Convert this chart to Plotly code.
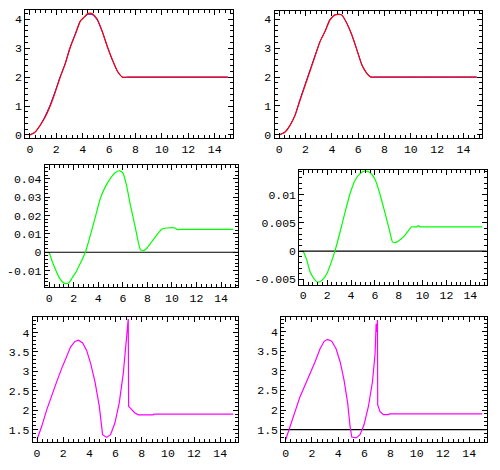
import plotly.graph_objects as go

# ---------------- data ----------------
# Panel 1 (top left): red and blue nearly identical
p1_red_x = [0, 0.38, 0.76, 1.15, 1.53, 1.91, 2.29, 2.67, 3.05, 3.44, 3.82, 4.05, 4.38, 4.71, 5.09, 5.47, 5.85, 6.23, 6.62, 7.0, 7.4, 15]
p1_red_y = [0, 0.09, 0.32, 0.61, 0.99, 1.47, 1.99, 2.45, 3.02, 3.48, 3.94, 4.05, 4.2, 4.2, 4.02, 3.6, 3.08, 2.62, 2.22, 2.0, 2.0, 2.0]
p1_blue_x = [0, 0.38, 0.76, 1.12, 1.5, 1.9, 2.28, 2.66, 3.04, 3.43, 3.82, 4.05, 4.38, 4.71, 5.1, 5.5, 5.88, 6.26, 6.64, 7.0, 7.4, 15]
p1_blue_y = [0, 0.09, 0.32, 0.62, 1.0, 1.49, 2.0, 2.46, 3.03, 3.49, 3.95, 4.05, 4.17, 4.17, 3.98, 3.55, 3.04, 2.58, 2.19, 2.0, 2.0, 2.0]

# Panel 2 (top right)
p2_red_x = [0, 0.43, 0.81, 1.19, 1.57, 1.95, 2.34, 2.72, 3.1, 3.48, 3.86, 4.24, 4.49, 4.75, 5.13, 5.51, 5.89, 6.27, 6.65, 6.95, 7.4, 15]
p2_red_y = [0, 0.09, 0.32, 0.66, 1.18, 1.69, 2.21, 2.72, 3.23, 3.58, 3.98, 4.15, 4.17, 4.15, 3.86, 3.46, 2.95, 2.43, 2.13, 2.0, 2.0, 2.0]
p2_blue_x = [0, 0.43, 0.81, 1.19, 1.55, 1.93, 2.32, 2.71, 3.1, 3.48, 3.84, 4.22, 4.49, 4.75, 5.15, 5.53, 5.91, 6.29, 6.67, 6.97, 7.4, 15]
p2_blue_y = [0, 0.1, 0.33, 0.67, 1.19, 1.7, 2.22, 2.73, 3.23, 3.58, 3.99, 4.15, 4.17, 4.15, 3.85, 3.44, 2.93, 2.41, 2.12, 2.0, 2.0, 2.0]

# Panel 3 (middle left)
p3_x = [0, 0.24, 0.51, 0.79, 1.06, 1.33, 1.6, 1.87, 2.22, 2.55, 2.95, 3.36, 3.77, 4.17, 4.58, 4.99, 5.39, 5.75, 6.02,
        6.29, 6.61, 7.02, 7.43, 7.7, 7.97, 8.37, 8.78, 9.19, 9.59, 10.27, 10.4, 10.8, 15]
p3_y = [0, -0.0049, -0.0094, -0.0135, -0.016, -0.0171, -0.0166, -0.0139, -0.0103, -0.0058, 0.0, 0.0095, 0.0195,
        0.0294, 0.0357, 0.0402, 0.0434, 0.0443, 0.0429, 0.0366, 0.0258, 0.0132, 0.0014, 0.0009, 0.0023, 0.0059,
        0.0095, 0.0126, 0.0132, 0.0132, 0.0124, 0.0124, 0.0124]

# Panel 4 (middle right)
p4_x = [0, 0.28, 0.56, 0.84, 1.12, 1.4, 1.68, 2.01, 2.37, 2.65, 3.07, 3.49, 3.91, 4.33, 4.75, 5.17, 5.59, 6.01, 6.42,
        6.84, 7.21, 7.49, 7.82, 8.16, 8.52, 8.8, 9.08, 9.5, 9.64, 9.78, 10.2, 15]
p4_y = [0, -0.0015, -0.0036, -0.0047, -0.0054, -0.0054, -0.0049, -0.0038, -0.0018, 0.0, 0.0033, 0.0068, 0.0101,
        0.0125, 0.0137, 0.0142, 0.0139, 0.0127, 0.0101, 0.0068, 0.0038, 0.0016, 0.0016, 0.0021, 0.0028, 0.0036,
        0.0043, 0.0043, 0.0045, 0.0043, 0.0043, 0.0043]

# Panel 5 (bottom left)
p5_x = [0, 0.36, 0.74, 1.12, 1.5, 1.88, 2.26, 2.57, 2.9, 3.16, 3.49, 3.79, 4.1, 4.43, 4.76, 5.01, 5.32, 5.62, 5.95,
        6.28, 6.59, 6.79, 6.92, 6.97, 7.0, 7.23, 7.48, 7.74, 8.88, 8.93, 15]
p5_y = [1.245, 1.585, 2.01, 2.39, 2.73, 3.07, 3.39, 3.63, 3.77, 3.8, 3.73, 3.54, 3.2, 2.73, 2.1, 1.37, 1.3, 1.37,
        1.67, 2.18, 2.94, 3.63, 4.14, 4.35, 2.1, 2.01, 1.93, 1.88, 1.88, 1.9, 1.9]

# Panel 6 (bottom right)
p6_x = [0, 0.33, 0.71, 1.09, 1.48, 1.86, 2.24, 2.62, 2.93, 3.18, 3.51, 3.84, 4.15, 4.45, 4.73, 4.91, 5.04, 5.37,
        5.67, 5.98, 6.31, 6.62, 6.82, 6.9, 6.95, 7.0, 7.02, 7.2, 7.46, 7.84, 7.91, 15]
p6_y = [1.25, 1.58, 1.96, 2.34, 2.64, 2.93, 3.23, 3.56, 3.75, 3.8, 3.75, 3.56, 3.23, 2.76, 2.17, 1.58, 1.31, 1.29,
        1.37, 1.63, 2.09, 2.72, 3.44, 4.2, 3.99, 4.29, 2.13, 1.96, 1.88, 1.88, 1.9, 1.9]

# reference lines
p34_ref_y = 0
p6_ref_y = 1.5

# tick labels
x_tickvals = [0, 2, 4, 6, 8, 10, 12, 14]
x_ticktext = ["0", "2", "4", "6", "8", "10", "12", "14"]
y12_tickvals = [0, 1, 2, 3, 4]
y12_ticktext = ["0", "1", "2", "3", "4"]
y3_tickvals = [-0.01, 0, 0.01, 0.02, 0.03, 0.04]
y3_ticktext = ["-0.01", "0", "0.01", "0.02", "0.03", "0.04"]
y4_tickvals = [-0.005, 0, 0.005, 0.01]
y4_ticktext = ["-0.005", "0", "0.005", "0.01"]
y56_tickvals = [1.5, 2, 2.5, 3, 3.5, 4]
y56_ticktext = ["1.5", "2", "2.5", "3", "3.5", "4"]

# ---------------- layout ----------------
W, H = 500, 470
# frames in pixels: (left, right, top, bottom)
frames = [
    (25.3, 232.5, 10.5, 139),
    (274.5, 481.7, 11.5, 139),
    (44.8, 238, 166.7, 289.3),
    (299.3, 486.7, 171.7, 287),
    (32.7, 238.3, 319.3, 446),
    (281.3, 486.7, 319.3, 446),
]
xranges = [[-0.35, 15.35], [-0.36, 15.38], [-0.36, 15.38], [-0.335, 15.37], [-0.33, 15.38], [-0.34, 15.34]]
yranges = [[-0.1, 4.31], [-0.1, 4.27], [-0.0188, 0.0473], [-0.0059, 0.0143], [1.176, 4.41], [1.18, 4.38]]
ytickinfo = [(y12_tickvals, y12_ticktext, 0.2), (y12_tickvals, y12_ticktext, 0.2),
             (y3_tickvals, y3_ticktext, 0.002), (y4_tickvals, y4_ticktext, 0.001),
             (y56_tickvals, y56_ticktext, 0.1), (y56_tickvals, y56_ticktext, 0.1)]

fig = go.Figure()

def add(i, x, y, color, width=1.0, shape="linear"):
    line = dict(color=color, width=width, shape=shape)
    if shape == "spline":
        line["smoothing"] = 0.5
    fig.add_trace(go.Scatter(x=x, y=y, mode="lines", line=line,
                             xaxis="x" if i == 1 else f"x{i}", yaxis="y" if i == 1 else f"y{i}",
                             showlegend=False, hoverinfo="skip"))

# reference lines (drawn first)
add(3, xranges[2], [p34_ref_y, p34_ref_y], "black", 1.2)
add(4, xranges[3], [p34_ref_y, p34_ref_y], "black", 1.2)
add(6, xranges[5], [p6_ref_y, p6_ref_y], "black", 1.2)

add(1, p1_blue_x, p1_blue_y, "#0000FF", 1.0, "spline")
add(1, p1_red_x, p1_red_y, "#FF0000", 1.2, "spline")
add(2, p2_blue_x, p2_blue_y, "#0000FF", 1.0, "spline")
add(2, p2_red_x, p2_red_y, "#FF0000", 1.2, "spline")
add(3, p3_x, p3_y, "#00FF00", 1.2, "spline")
add(4, p4_x, p4_y, "#00FF00", 1.2, "spline")
add(5, p5_x, p5_y, "#FF00FF", 1.2)
add(6, p6_x, p6_y, "#FF00FF", 1.2)

font = dict(family="Liberation Mono, Courier New, monospace", size=11.5, color="black")
layout = dict(width=W, height=H, margin=dict(l=0, r=0, t=0, b=0),
              paper_bgcolor="white", plot_bgcolor="white", showlegend=False, font=font)
for i, (L, R, T, B) in enumerate(frames, start=1):
    sx = "xaxis" if i == 1 else f"xaxis{i}"
    sy = "yaxis" if i == 1 else f"yaxis{i}"
    ax_y = "y" if i == 1 else f"y{i}"
    ax_x = "x" if i == 1 else f"x{i}"
    tv, tt, mdt = ytickinfo[i - 1]
    common = dict(showline=True, linecolor="black", linewidth=1, mirror="allticks",
                  showgrid=False, zeroline=False, ticks="inside", ticklen=5, tickwidth=1,
                  tickcolor="black", tickfont=font, fixedrange=True)
    layout[sx] = dict(domain=[L / W, R / W], range=xranges[i - 1], anchor=ax_y,
                      tickmode="array", tickvals=x_tickvals, ticktext=x_ticktext,
                      minor=dict(dtick=0.4, tick0=0, ticks="inside", ticklen=3, tickcolor="black", showgrid=False),
                      **common)
    layout[sy] = dict(domain=[1 - B / H, 1 - T / H], range=yranges[i - 1], anchor=ax_x,
                      tickmode="array", tickvals=tv, ticktext=tt,
                      minor=dict(dtick=mdt, tick0=0, ticks="inside", ticklen=3, tickcolor="black", showgrid=False),
                      **common)
fig.update_layout(**layout)
fig.write_html("out.html", config={"displayModeBar": False},
               post_script="document.body.style.margin='0';document.body.style.overflow='hidden';")
